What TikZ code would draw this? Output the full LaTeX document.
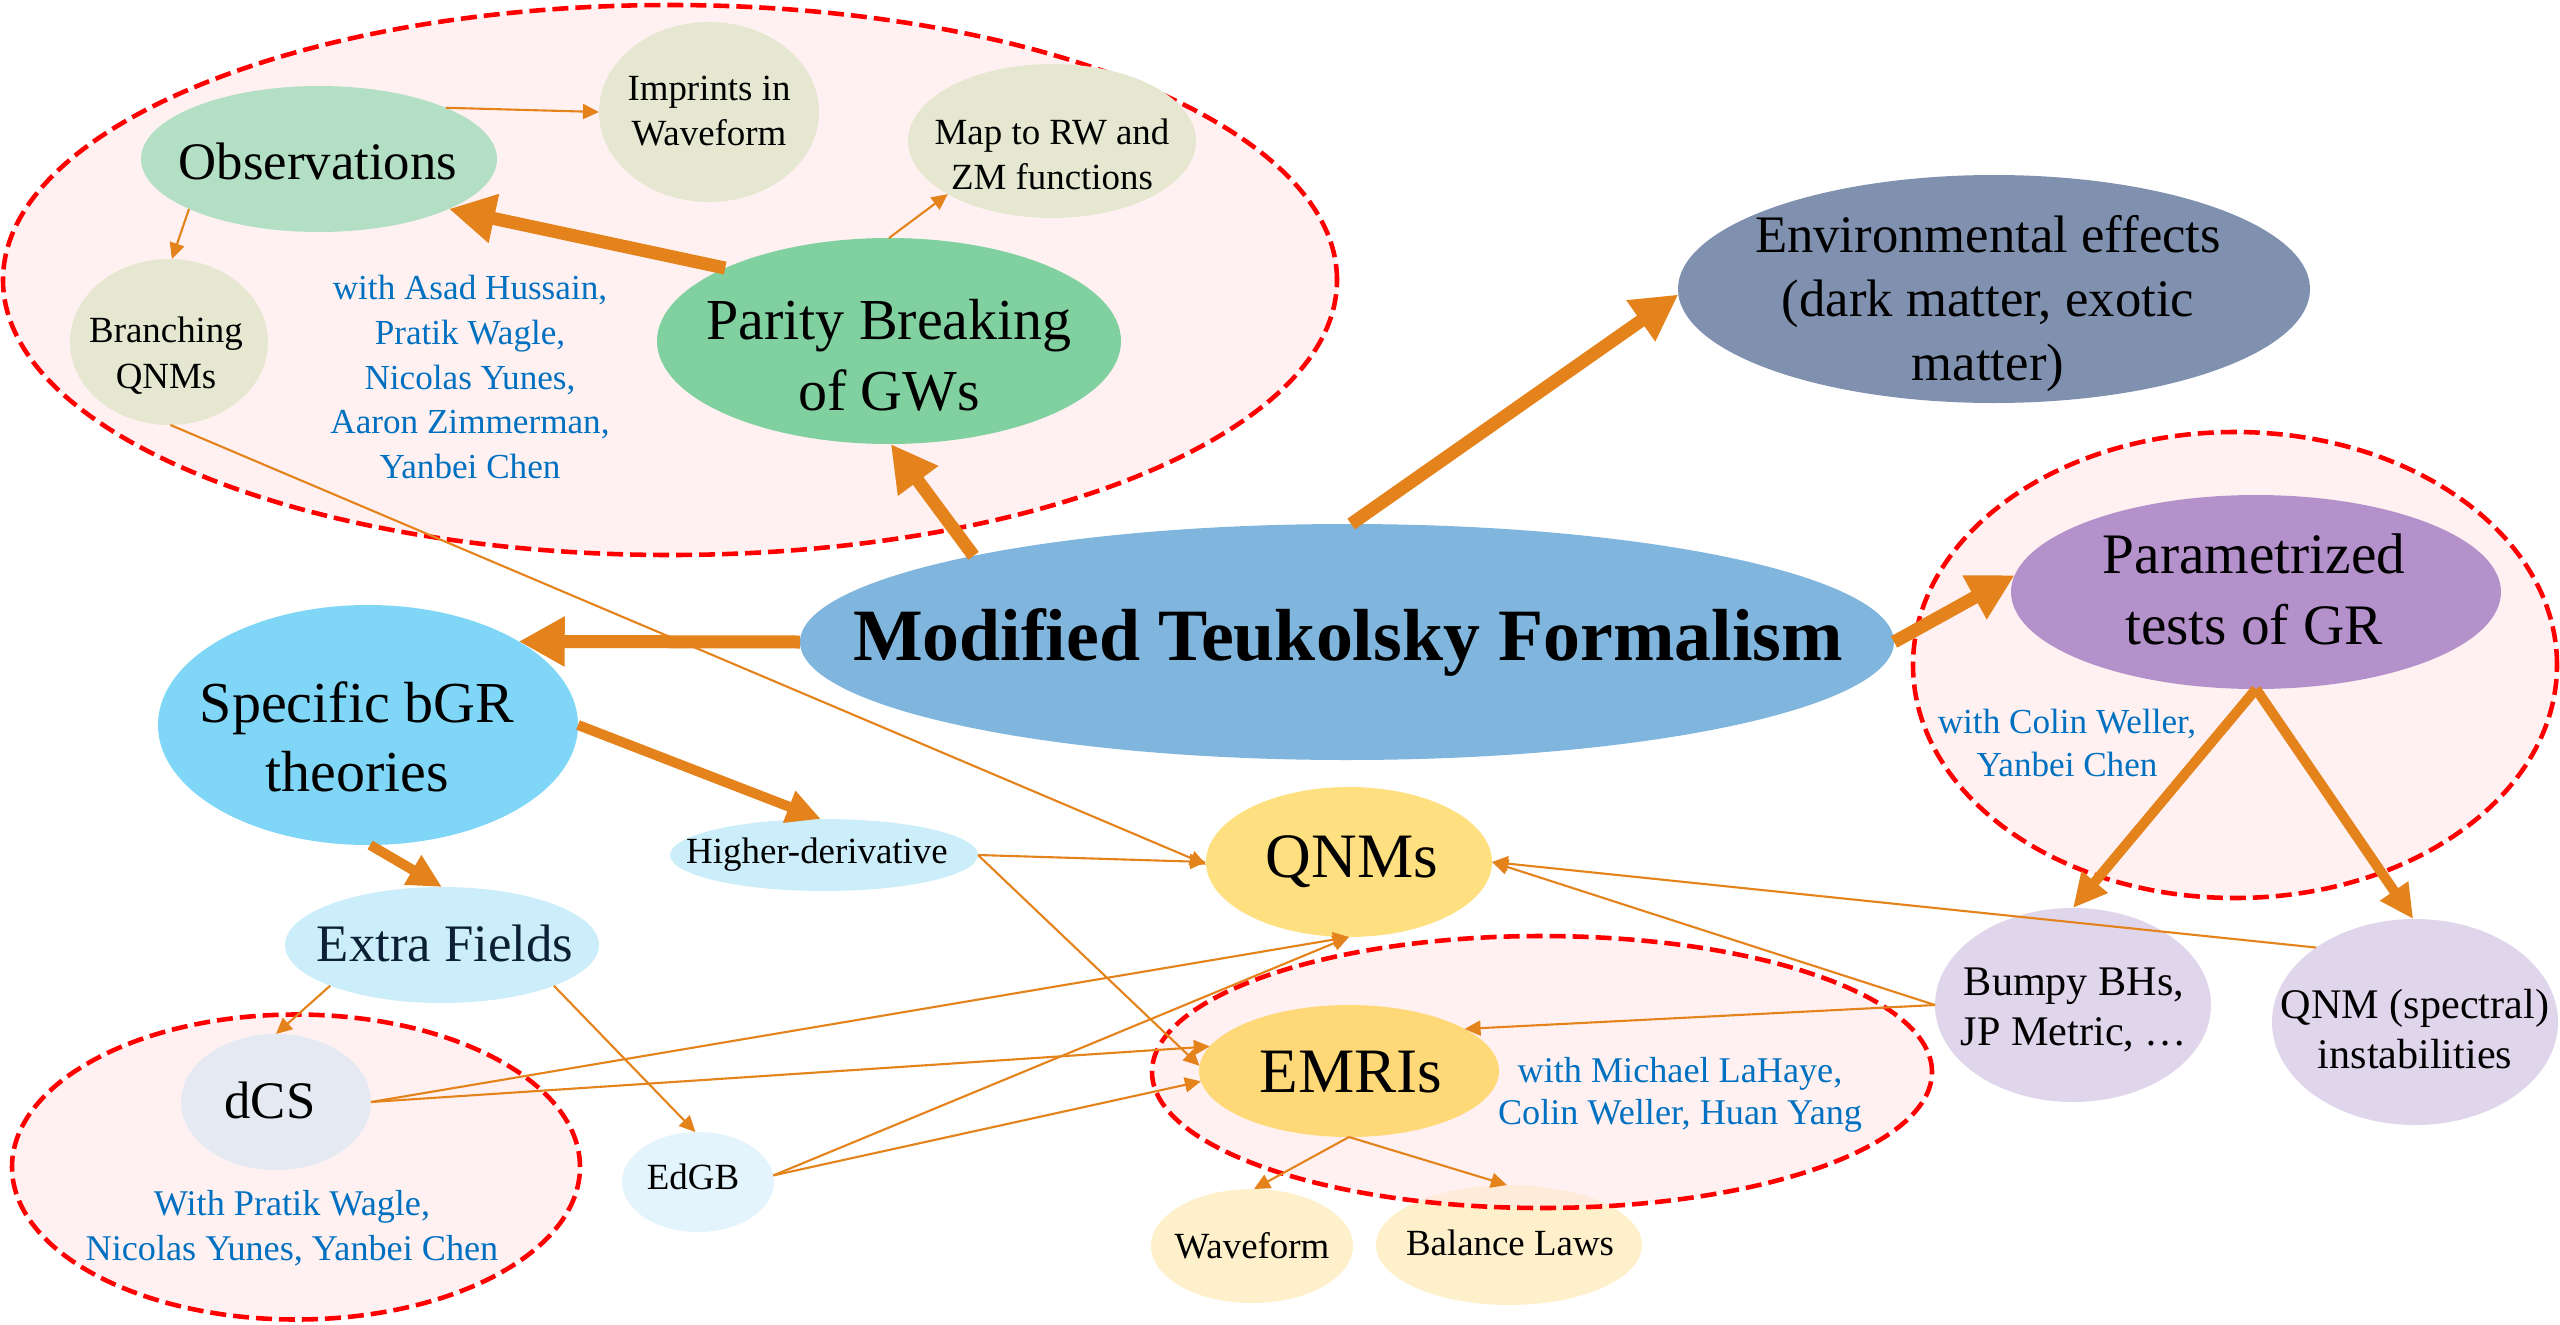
\documentclass[tikz,border=0pt]{standalone}
\usepackage{fontspec}
\setmainfont{Liberation Serif}
\usetikzlibrary{shapes.geometric,arrows.meta}
\definecolor{arr}{HTML}{E4831B}
\definecolor{regfill}{RGB}{255,231,231}
\definecolor{credblue}{HTML}{0070C0}
\definecolor{cObs}{RGB}{179,223,197}
\definecolor{cBeige}{RGB}{230,231,208}
\definecolor{cPar}{RGB}{128,208,160}
\definecolor{cEnv}{RGB}{128,145,176}
\definecolor{cMod}{RGB}{128,182,221}
\definecolor{cPrm}{RGB}{181,145,203}
\definecolor{cSpe}{RGB}{128,214,246}
\definecolor{cExt}{RGB}{204,238,250}
\definecolor{cQnm}{RGB}{255,224,128}
\definecolor{cEmr}{RGB}{255,216,120}
\definecolor{cCream}{RGB}{255,240,204}
\definecolor{cLav}{RGB}{224,214,236}
\definecolor{cDcs}{RGB}{228,233,242}
\definecolor{cEdg}{RGB}{228,244,252}
\definecolor{cNavy}{RGB}{11,31,53}
\tikzset{
  ell/.style={ellipse, inner sep=0pt, outer sep=0pt, draw=none},
  reg/.style={ellipse, inner sep=0pt, outer sep=0pt, draw=red, line width=1.3pt,
    dash pattern=on 0.16cm off 0.07cm, fill=regfill, fill opacity=0.55},
  lbl/.style={align=center, inner sep=0pt},
  credit/.style={lbl, text=credblue},
  bigarrow/.style={draw=arr, line width=0.13cm, -{Triangle[length=0.46cm,width=0.47cm]}},
  midarrow/.style={draw=arr, line width=0.10cm, -{Triangle[length=0.34cm,width=0.32cm]}},
  con/.style={draw=arr, line width=0.6pt, -{Triangle[length=0.16cm,width=0.15cm]}}
}
\begin{document}
\begin{tikzpicture}[x=1cm,y=1cm]
\useasboundingbox (0,0) rectangle (25.6,-13.25);
\fill[white] (0,0) rectangle (25.6,-13.25);

% nodes lying under a region
\node[ell, fill=cCream, minimum width=2.02cm, minimum height=1.14cm] (wav) at (12.52,-12.46) {};
\node[ell, fill=cCream, minimum width=2.66cm, minimum height=1.20cm] (bal) at (15.09,-12.45) {};

% dashed regions
\node[reg, minimum width=13.34cm, minimum height=5.50cm] (r1) at (6.70,-2.80) {};
\node[reg, minimum width=7.80cm, minimum height=2.72cm] (r2) at (15.42,-10.72) {};
\node[reg, minimum width=6.44cm, minimum height=4.66cm] (r3) at (22.35,-6.65) {};
\node[reg, minimum width=5.68cm, minimum height=3.05cm] (r4) at (2.96,-11.67) {};

% ellipses
\node[ell, fill=cObs, minimum width=3.56cm, minimum height=1.46cm] (obs) at (3.19,-1.59) {};
\node[ell, fill=cBeige, minimum width=2.20cm, minimum height=1.80cm] (imp) at (7.09,-1.12) {};
\node[ell, fill=cBeige, minimum width=2.88cm, minimum height=1.54cm] (map) at (10.52,-1.41) {};
\node[ell, fill=cPar, minimum width=4.64cm, minimum height=2.06cm] (par) at (8.89,-3.41) {};
\node[ell, fill=cBeige, minimum width=1.98cm, minimum height=1.66cm] (bra) at (1.69,-3.42) {};
\node[ell, fill=cEnv, minimum width=6.32cm, minimum height=2.28cm] (env) at (19.94,-2.89) {};
\node[ell, fill=cMod, minimum width=10.94cm, minimum height=2.36cm] (mod) at (13.47,-6.42) {};
\node[ell, fill=cSpe, minimum width=4.20cm, minimum height=2.40cm] (spe) at (3.68,-7.25) {};
\node[ell, fill=cExt, minimum width=3.14cm, minimum height=1.16cm] (ext) at (4.42,-9.45) {};
\node[ell, fill=cExt, minimum width=3.08cm, minimum height=0.72cm] (hig) at (8.24,-8.55) {};
\node[ell, fill=cQnm, minimum width=2.86cm, minimum height=1.50cm] (qnm) at (13.49,-8.62) {};
\node[ell, fill=cEmr, minimum width=3.00cm, minimum height=1.32cm] (emr) at (13.49,-10.71) {};
\node[ell, fill=cPrm, minimum width=4.90cm, minimum height=1.94cm] (prm) at (22.56,-5.92) {};
\node[ell, fill=cLav, minimum width=2.76cm, minimum height=1.94cm] (bum) at (20.73,-10.05) {};
\node[ell, fill=cLav, minimum width=2.86cm, minimum height=2.06cm] (ins) at (24.15,-10.22) {};
\node[ell, fill=cDcs, minimum width=1.90cm, minimum height=1.36cm] (dcs) at (2.76,-11.02) {};
\node[ell, fill=cEdg, minimum width=1.52cm, minimum height=1.00cm] (edg) at (6.98,-11.82) {};

% texts
\node[lbl, font=\fontsize{15}{18}\selectfont] (obs-t) at (3.18,-1.61) {Observations};
\node[lbl, font=\fontsize{10.5}{12.8}\selectfont] (imp-t) at (7.09,-1.115) {Imprints in\\Waveform};
\node[lbl, font=\fontsize{10.5}{12.8}\selectfont] (map-t) at (10.52,-1.54) {Map to RW and\\ZM functions};
\node[lbl, font=\fontsize{16.5}{20.2}\selectfont] (par-t) at (8.89,-3.55) {Parity Breaking\\of GWs};
\node[lbl, font=\fontsize{10.5}{13}\selectfont] (bra-t) at (1.66,-3.56) {Branching\\QNMs};
\node[credit, font=\fontsize{10}{12.7}\selectfont] (r1-t) at (4.70,-3.77) {with Asad Hussain,\\Pratik Wagle,\\Nicolas Yunes,\\Aaron Zimmerman,\\Yanbei Chen};
\node[lbl, font=\fontsize{15}{18.2}\selectfont] (env-t) at (19.88,-3.04) {Environmental effects\\(dark matter, exotic\\matter)};
\node[lbl, font=\fontsize{21}{25}\selectfont\bfseries] (mod-t) at (13.48,-6.42) {Modified Teukolsky Formalism};
\node[lbl, font=\fontsize{16.5}{19.6}\selectfont] (spe-t) at (3.57,-7.37) {Specific bGR\\theories};
\node[lbl, text=cNavy, font=\fontsize{15}{18}\selectfont] (ext-t) at (4.45,-9.43) {Extra Fields};
\node[lbl, font=\fontsize{10.5}{12.6}\selectfont] (hig-t) at (8.17,-8.55) {Higher-derivative};
\node[lbl, font=\fontsize{18}{21.6}\selectfont] (qnm-t) at (13.52,-8.62) {QNMs};
\node[lbl, font=\fontsize{18}{21.6}\selectfont] (emr-t) at (13.51,-10.72) {EMRIs};
\node[credit, font=\fontsize{10.3}{12}\selectfont] (r2-t) at (16.80,-10.95) {with Michael LaHaye,\\Colin Weller, Huan Yang};
\node[lbl, font=\fontsize{10.5}{12.6}\selectfont] (wav-t) at (12.52,-12.46) {Waveform};
\node[lbl, font=\fontsize{10.5}{12.6}\selectfont] (bal-t) at (15.10,-12.43) {Balance Laws};
\node[lbl, font=\fontsize{16.3}{20.2}\selectfont] (prm-t) at (22.54,-5.89) {Parametrized\\tests of GR};
\node[credit, font=\fontsize{10}{12.3}\selectfont] (r3-t) at (20.67,-7.43) {with Colin Weller,\\Yanbei Chen};
\node[lbl, font=\fontsize{12}{14.2}\selectfont] (bum-t) at (20.74,-10.10) {Bumpy BHs,\\JP Metric, …};
\node[lbl, font=\fontsize{12}{14.2}\selectfont] (ins-t) at (24.15,-10.29) {QNM (spectral)\\instabilities};
\node[lbl, font=\fontsize{15}{18}\selectfont] (dcs-t) at (2.70,-11.00) {dCS};
\node[credit, font=\fontsize{10.3}{12.8}\selectfont] (r4-t) at (2.92,-12.28) {With Pratik Wagle,\\Nicolas Yunes, Yanbei Chen};
\node[lbl, font=\fontsize{10.5}{12.6}\selectfont] (edg-t) at (6.93,-11.77) {EdGB};

% thin connectors
\draw[con] (obs.22.7) -- (imp.180);
\draw[con] (par.90) -- (map.207.9);
\draw[con] (obs.201.9) -- (bra.88);
\draw[con] (bra.-89) -- (qnm.181);
\draw[con] (hig.0) -- (qnm.180);
\draw[con] (hig.0) -- (emr.178);
\draw[con] (ext.200.6) -- (dcs.90);
\draw[con] (ext.-20.6) -- (edg.93);
\draw[con] (dcs.0) -- (qnm.-90);
\draw[con] (dcs.0) -- (emr.170);
\draw[con] (edg.5) -- (qnm.-90);
\draw[con] (edg.5) -- (emr.184);
\draw[con] (bum.180) -- (qnm.0);
\draw[con] (bum.180) -- (emr.20);
\draw[con] (ins.143.7) -- (qnm.0);
\draw[con] (emr.-90) -- (wav.88);
\draw[con] (emr.-90) -- (bal.92);

% thick connectors
\draw[bigarrow] (mod.167.7) -- (par.-89);
\draw[bigarrow] (mod.180) -- (spe.29.4);
\draw[bigarrow] (mod.88.5) -- (env.181);
\draw[bigarrow] (mod.0) -- (prm.176.5);
\draw[bigarrow] (par.156.1) -- (obs.-21.5);
\draw[midarrow] (spe.0) -- (hig.95);
\draw[midarrow] (spe.-89.5) -- (ext.90);
\draw[midarrow] (prm.-90) -- (bum.90);
\draw[midarrow] (prm.-90) -- (ins.91);
\end{tikzpicture}
\end{document}
